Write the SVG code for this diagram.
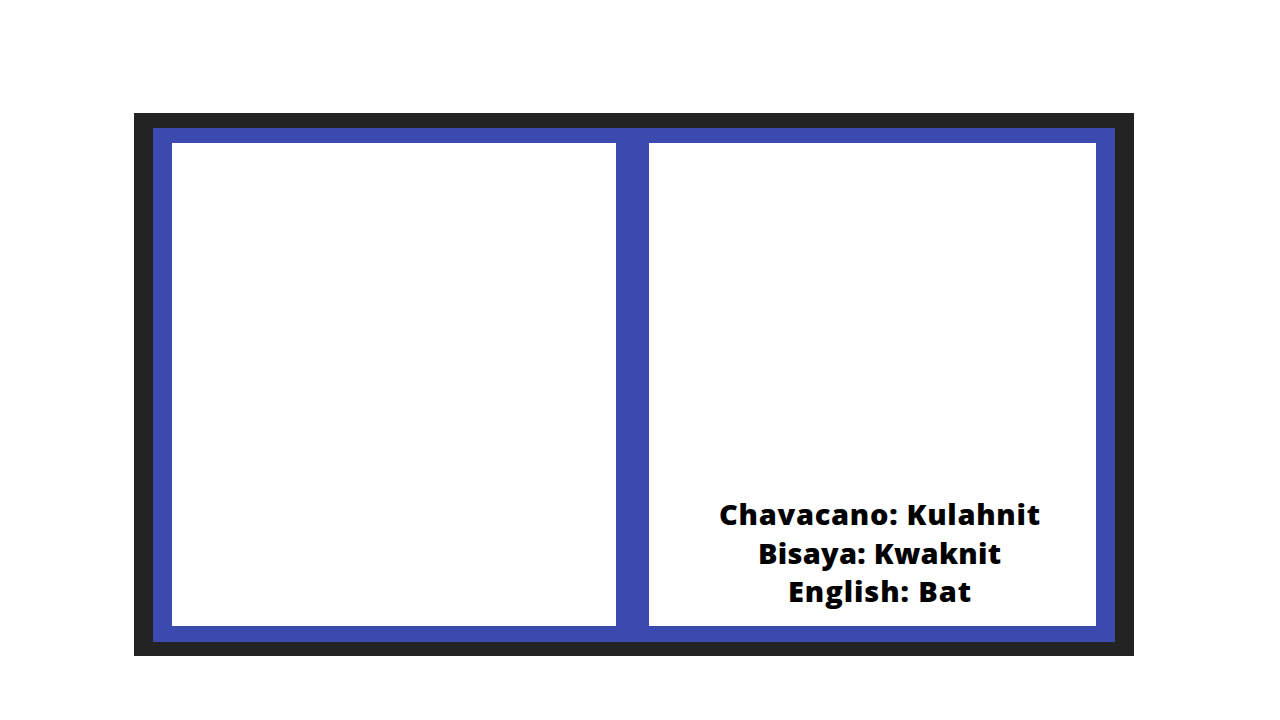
<svg xmlns="http://www.w3.org/2000/svg" width="1280" height="720" viewBox="0 0 1280 720">
<style>
.lbl{font-family:"Open Sans","Liberation Sans",sans-serif;font-weight:800;font-size:29px;fill:#000;text-anchor:middle}
</style>
<rect width="1280" height="720" fill="#ffffff"/>
<g id="frame">
<rect x="134" y="113" width="1000" height="543" fill="#232323"/>
<rect x="153" y="128" width="962" height="514" fill="#3c4ab0"/>
</g>
<g id="panel-left">
<rect x="172" y="143" width="444" height="483" fill="#ffffff"/>
</g>
<g id="panel-right">
<rect x="649" y="143" width="447" height="483" fill="#ffffff"/>
<text class="lbl" x="879.5" y="525" textLength="321" lengthAdjust="spacing">Chavacano: Kulahnit</text>
<text class="lbl" x="879.5" y="564" textLength="243" lengthAdjust="spacing">Bisaya: Kwaknit</text>
<text class="lbl" x="879.5" y="602" textLength="183" lengthAdjust="spacing">English: Bat</text>
</g>
</svg>
